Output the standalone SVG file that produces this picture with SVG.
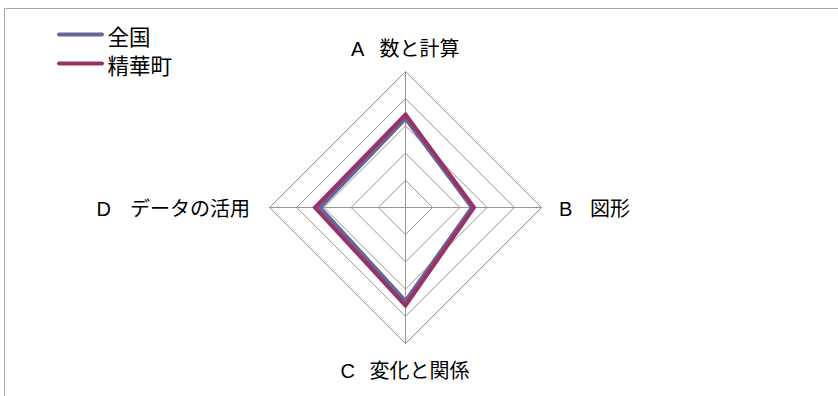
<svg xmlns="http://www.w3.org/2000/svg" width="838" height="396" viewBox="0 0 838 396">
<style>
.bg{fill:#ffffff}
.frame{fill:none;stroke:#a8a8a8;stroke-width:1}
.grid{fill:none;stroke:#969696;stroke-width:1}
.s1{fill:none;stroke:#666699;stroke-width:4;stroke-linejoin:miter}
.s2{fill:none;stroke:#993366;stroke-width:4;stroke-linejoin:miter}
.lg1{stroke:#666699;stroke-width:4;stroke-linecap:round}
.lg2{stroke:#993366;stroke-width:4;stroke-linecap:round}
.lbl{font-family:"Liberation Sans","Noto Sans CJK JP",sans-serif;font-size:20px;fill:#000000}
.cjk{font-family:"Noto Sans CJK JP","Liberation Sans",sans-serif}
.leg{font-family:"Noto Sans CJK JP","Liberation Sans",sans-serif;font-size:21.5px;fill:#000000}
</style>
<rect class="bg" x="0" y="0" width="838" height="396"/>
<path class="frame" d="M4.5,396 V8.5 H838"/>
<g id="grid">
<polygon class="grid" points="405.5,180.3 432.7,207.5 405.5,234.7 378.3,207.5"/>
<polygon class="grid" points="405.5,153.1 459.9,207.5 405.5,261.9 351.1,207.5"/>
<polygon class="grid" points="405.5,125.9 487.1,207.5 405.5,289.1 323.9,207.5"/>
<polygon class="grid" points="405.5,98.7 514.3,207.5 405.5,316.3 296.7,207.5"/>
<polygon class="grid" points="405.5,71.5 541.5,207.5 405.5,343.5 269.5,207.5"/>
<path class="grid" d="M405.5,207.5 V71.5 M405.5,207.5 H541.5 M405.5,207.5 V343.5 M405.5,207.5 H269.5"/>
</g>
<g id="series">
<polygon id="series-zenkoku" class="s1" points="405.5,118.5 472,207.5 405.5,301 320,207.5"/>
<polygon id="series-seika" class="s2" points="405.5,114.5 474,207.5 405.5,305.5 315,207.5"/>
</g>
<g id="axis-A"><text class="lbl" y="56" xml:space="preserve"><tspan x="351">A</tspan><tspan class="cjk" x="379.5">数と計算</tspan></text></g>
<g id="axis-B"><text class="lbl" y="216" xml:space="preserve"><tspan x="559">B</tspan><tspan class="cjk" x="590">図形</tspan></text></g>
<g id="axis-C"><text class="lbl" y="378" xml:space="preserve"><tspan x="340.5">C</tspan><tspan class="cjk" x="369.5">変化と関係</tspan></text></g>
<g id="axis-D"><text class="lbl" y="216" xml:space="preserve"><tspan x="96.5">D</tspan><tspan class="cjk" x="130">データの活用</tspan></text></g>
<g id="legend">
<line class="lg1" x1="59" y1="34.5" x2="102" y2="34.5"/>
<text class="leg" x="107.5" y="45">全国</text>
<line class="lg2" x1="59" y1="63.5" x2="102" y2="63.5"/>
<text class="leg" x="107.5" y="74">精華町</text>
</g>
</svg>
